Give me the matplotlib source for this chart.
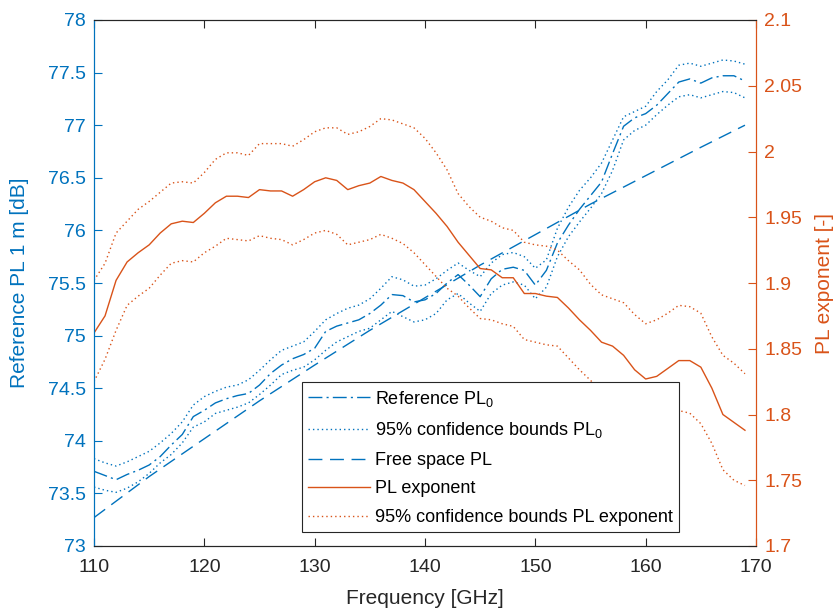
import matplotlib
matplotlib.use('Agg')
import matplotlib.pyplot as plt
from matplotlib.ticker import FuncFormatter

BLUE = '#0072BD'
ORANGE = '#D95319'
DARK = '#262626'

# frequency grid [GHz]
freq = list(range(110, 170))

# reference path loss at 1 m [dB] and its 95 % bounds
ref_pl0 = [73.71, 73.67, 73.63, 73.68, 73.72, 73.77, 73.85, 73.96, 74.06, 74.23,
           74.29, 74.36, 74.40, 74.43, 74.45, 74.53, 74.64, 74.72, 74.78, 74.82,
           74.88, 75.04, 75.09, 75.12, 75.15, 75.21, 75.29, 75.39, 75.38, 75.32,
           75.34, 75.40, 75.50, 75.58, 75.48, 75.37, 75.54, 75.63, 75.65, 75.62,
           75.48, 75.62, 75.88, 76.05, 76.20, 76.33, 76.46, 76.73, 76.99, 77.07,
           77.11, 77.19, 77.30, 77.41, 77.44, 77.40, 77.45, 77.47, 77.47, 77.42]
ref_pl0_hi = [73.83, 73.79, 73.76, 73.80, 73.85, 73.90, 73.98, 74.07, 74.18, 74.34,
              74.42, 74.47, 74.51, 74.53, 74.58, 74.67, 74.77, 74.86, 74.90, 74.94,
              75.04, 75.15, 75.21, 75.26, 75.29, 75.35, 75.45, 75.56, 75.53, 75.47,
              75.48, 75.54, 75.62, 75.69, 75.62, 75.56, 75.69, 75.77, 75.79, 75.75,
              75.64, 75.72, 76.02, 76.22, 76.38, 76.50, 76.64, 76.86, 77.08, 77.13,
              77.18, 77.32, 77.43, 77.57, 77.59, 77.56, 77.59, 77.62, 77.61, 77.58]
ref_pl0_lo = [73.56, 73.53, 73.51, 73.55, 73.61, 73.69, 73.79, 73.87, 73.98, 74.13,
              74.18, 74.26, 74.29, 74.32, 74.36, 74.44, 74.53, 74.63, 74.67, 74.70,
              74.77, 74.86, 74.94, 74.99, 75.04, 75.07, 75.15, 75.23, 75.18, 75.13,
              75.15, 75.21, 75.34, 75.40, 75.31, 75.23, 75.40, 75.48, 75.51, 75.48,
              75.35, 75.46, 75.75, 75.94, 76.08, 76.21, 76.35, 76.57, 76.86, 76.95,
              77.00, 77.10, 77.19, 77.27, 77.29, 77.26, 77.29, 77.32, 77.31, 77.26]

# free space path loss at 1 m [dB]
fs_freq = [110, 115, 120, 125, 130, 135, 140, 145, 150, 155, 160, 165, 169]
fs_pl = [73.27, 73.66, 74.02, 74.38, 74.72, 75.05, 75.36, 75.67, 75.96, 76.25,
         76.52, 76.79, 77.00]

# path loss exponent [-] and its 95 % bounds
pl_exp = [1.862, 1.875, 1.902, 1.916, 1.923, 1.929, 1.938, 1.945, 1.947, 1.946,
          1.953, 1.961, 1.966, 1.966, 1.965, 1.971, 1.970, 1.970, 1.966, 1.971,
          1.977, 1.980, 1.978, 1.971, 1.974, 1.976, 1.981, 1.978, 1.976, 1.971,
          1.962, 1.953, 1.943, 1.931, 1.921, 1.911, 1.910, 1.904, 1.904, 1.892,
          1.892, 1.890, 1.889, 1.881, 1.872, 1.864, 1.855, 1.852, 1.845, 1.834,
          1.827, 1.829, 1.835, 1.841, 1.841, 1.836, 1.820, 1.800, 1.794, 1.788]
pl_exp_hi = [1.902, 1.915, 1.938, 1.947, 1.956, 1.962, 1.969, 1.976, 1.977, 1.976,
             1.984, 1.994, 1.999, 1.999, 1.997, 2.006, 2.006, 2.006, 2.004, 2.009,
             2.015, 2.018, 2.018, 2.013, 2.015, 2.019, 2.025, 2.024, 2.021, 2.018,
             2.010, 1.999, 1.986, 1.968, 1.958, 1.950, 1.947, 1.942, 1.940, 1.931,
             1.929, 1.928, 1.925, 1.917, 1.910, 1.899, 1.891, 1.888, 1.885, 1.876,
             1.869, 1.872, 1.877, 1.883, 1.882, 1.877, 1.859, 1.845, 1.839, 1.831]
pl_exp_lo = [1.825, 1.842, 1.864, 1.883, 1.890, 1.896, 1.906, 1.915, 1.917, 1.916,
             1.923, 1.928, 1.934, 1.933, 1.932, 1.936, 1.934, 1.933, 1.929, 1.933,
             1.938, 1.940, 1.937, 1.929, 1.931, 1.933, 1.937, 1.934, 1.930, 1.923,
             1.914, 1.905, 1.896, 1.890, 1.881, 1.873, 1.872, 1.869, 1.867, 1.857,
             1.855, 1.853, 1.852, 1.843, 1.834, 1.826, 1.817, 1.814, 1.807, 1.796,
             1.789, 1.791, 1.797, 1.803, 1.801, 1.793, 1.778, 1.758, 1.750, 1.746]


def matlab_fmt(v, pos):
    return '%g' % round(v, 4)


plt.rcParams['font.family'] = ['Liberation Sans', 'DejaVu Sans']
plt.rcParams['mathtext.fontset'] = 'custom'
plt.rcParams['mathtext.rm'] = 'Liberation Sans'
plt.rcParams['mathtext.it'] = 'Liberation Sans:italic'

fig = plt.figure(figsize=(8.38, 6.10), dpi=100)
ax1 = fig.add_axes([94 / 838, 64 / 610, 662 / 838, 526 / 610])
ax2 = ax1.twinx()

dashdot = (10, 3, 1.5, 3)
dotted = (1, 2.2)
dashed = (10, 5.5)

l1, = ax1.plot(freq, ref_pl0, color=BLUE, lw=1.0, dashes=dashdot, label=r'Reference PL$_0$')
l2, = ax1.plot(freq, ref_pl0_hi, color=BLUE, lw=1.0, dashes=dotted,
               label=r'95% confidence bounds PL$_0$')
ax1.plot(freq, ref_pl0_lo, color=BLUE, lw=1.0, dashes=dotted)
l3, = ax1.plot(fs_freq, fs_pl, color=BLUE, lw=1.0, dashes=dashed, label='Free space PL')

l4, = ax2.plot(freq, pl_exp, color=ORANGE, lw=1.0, label='PL exponent')
l5, = ax2.plot(freq, pl_exp_hi, color=ORANGE, lw=1.0, dashes=dotted,
               label='95% confidence bounds PL exponent')
ax2.plot(freq, pl_exp_lo, color=ORANGE, lw=1.0, dashes=dotted)

ax1.set_xlim(110, 170)
ax1.set_ylim(73, 78)
ax2.set_ylim(1.7, 2.1)
ax1.set_xticks(range(110, 171, 10))
ax1.set_yticks([73 + 0.5 * i for i in range(11)])
ax2.set_yticks([1.7 + 0.05 * i for i in range(9)])
ax1.yaxis.set_major_formatter(FuncFormatter(matlab_fmt))
ax2.yaxis.set_major_formatter(FuncFormatter(matlab_fmt))

ax1.xaxis.set_ticks_position('both')
ax1.tick_params(axis='x', direction='in', length=6, width=0.8, color=DARK,
                labelcolor=DARK, labelsize=14, pad=9)
ax1.tick_params(axis='y', direction='in', length=6, width=0.8, color=BLUE,
                labelcolor=BLUE, labelsize=14, pad=6)
ax2.tick_params(axis='y', direction='in', length=6, width=0.8, color=ORANGE,
                labelcolor=ORANGE, labelsize=14, pad=6)

for ax in (ax1, ax2):
    ax.spines['top'].set_color(DARK)
    ax.spines['bottom'].set_color(DARK)
    ax.spines['left'].set_color(BLUE)
    ax.spines['right'].set_color(ORANGE)
    for s in ax.spines.values():
        s.set_linewidth(0.8)

ax1.set_xlabel('Frequency [GHz]', fontsize=15, color=DARK, labelpad=10)
ax1.set_ylabel('Reference PL 1 m [dB]', fontsize=15, color=BLUE, labelpad=13)
ax2.set_ylabel('PL exponent [-]', fontsize=15, color=ORANGE, labelpad=9)

leg = ax2.legend(handles=[l1, l2, l3, l4, l5], loc='lower left',
                 bbox_to_anchor=(0.314, 0.026), fontsize=13, frameon=True,
                 fancybox=False, framealpha=1, edgecolor=DARK,
                 handlelength=3.4, handletextpad=0.3, borderpad=0.35,
                 labelspacing=0.64, borderaxespad=0)
leg.get_frame().set_linewidth(0.8)

fig.savefig('out.png', dpi=100)
